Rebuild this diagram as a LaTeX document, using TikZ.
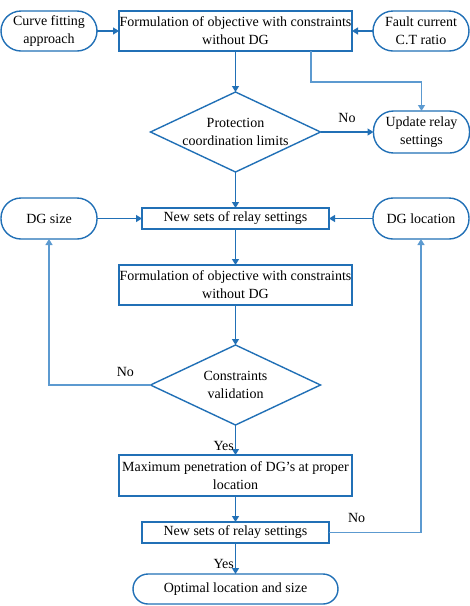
\documentclass[tikz,border=0pt]{standalone}
\usepackage{fontspec}
\setmainfont{Liberation Serif}
\usepackage{xcolor}
\usepackage{tikz}
\usetikzlibrary{arrows.meta,positioning,calc,shapes.geometric}
\definecolor{flowblue}{RGB}{33,112,182}
\definecolor{linkblue}{RGB}{92,154,208}

\begin{document}
\begin{tikzpicture}[
    >={Triangle[length=6pt,width=7pt]},
    font=\rmfamily\fontsize{14pt}{18pt}\selectfont,
    box/.style={draw=flowblue, line width=1.4pt, inner sep=0pt, outer sep=0pt,
                align=center, minimum width=#1, minimum height=40pt},
    box/.default=233pt,
    term/.style={box=96pt, rounded corners=20pt},
    decide/.style={diamond, draw=flowblue, line width=1.4pt, inner sep=0pt,
                   outer sep=0pt, minimum width=170pt, minimum height=80pt,
                   label={[align=center]center:#1}},
    lbl/.style={inner sep=2pt, text=black},
    arr/.style={->, line width=1.2pt, draw=flowblue, fill=none},
    link/.style={->, line width=1.2pt, draw=linkblue, fill=none},
  ]
  \useasboundingbox (0,0) rectangle (470pt,-606pt);

  % Without DG
  \node[box] (form1) at (235.5pt,-31pt)
    {Formulation of objective with constraints\\without DG};
  \node[term, left=22pt of form1] (curve) {Curve fitting\\approach};
  \node[term, right=21pt of form1] (fault) {Fault current\\C.T ratio};
  \node[decide={Protection\\coordination limits}, below=41pt of form1] (prot) {};
  \node[term, minimum height=42pt, right=53pt of prot] (upd) {Update relay\\settings};

  % With DG
  \node[box=187pt, minimum height=21pt, below=36pt of prot] (new1)
    {New sets of relay settings};
  \node[term, minimum height=41pt, left=45pt of new1] (dgsize) {DG size};
  \node[term, minimum height=41pt, right=44pt of new1] (dgloc) {DG location};
  \node[box, below=36pt of new1] (form2)
    {Formulation of objective with constraints\\without DG};
  \node[decide={Constraints\\validation}, below=40pt of form2] (valid) {};
  \node[box, minimum height=41pt, below=30pt of valid] (maxpen)
    {Maximum penetration of DG's at proper\\location};
  \node[box=187pt, minimum height=21pt, below=26pt of maxpen] (new2)
    {New sets of relay settings};
  \node[term, minimum width=205pt, minimum height=30pt, rounded corners=15pt,
        below=31pt of new2] (opt) {Optimal location and size};

  \draw[arr] (curve) -- (form1);
  \draw[arr] (fault) -- (form1);
  \draw[arr] (form1) -- (prot);
  \draw[link] ($(form1.south)+(75.5pt,0)$) -- ++(0,-31pt) -| (upd.north);
  \draw[arr] (prot) -- node[lbl, above=7pt] {No} (upd);
  \draw[arr] (prot) -- (new1);
  \draw[arr] (dgsize) -- (new1);
  \draw[arr] (dgloc) -- (new1);
  \draw[arr] (new1) -- (form2);
  \draw[arr] (form2) -- (valid);
  \draw[link] (valid.west) -| node[lbl, pos=0.124, above=6pt] {No} (dgsize.south);
  \draw[arr] (valid) -- node[lbl, pos=1, anchor=south east, inner xsep=1pt, inner ysep=4pt] {Yes} (maxpen);
  \draw[arr] (maxpen) -- (new2);
  \draw[link] (new2.east) -| node[lbl, pos=0.15, above=7pt] {No} (dgloc.south);
  \draw[arr] (new2) -- node[lbl, pos=1, anchor=south east, inner xsep=1pt, inner ysep=5pt] {Yes} (opt);
\end{tikzpicture}
\end{document}
